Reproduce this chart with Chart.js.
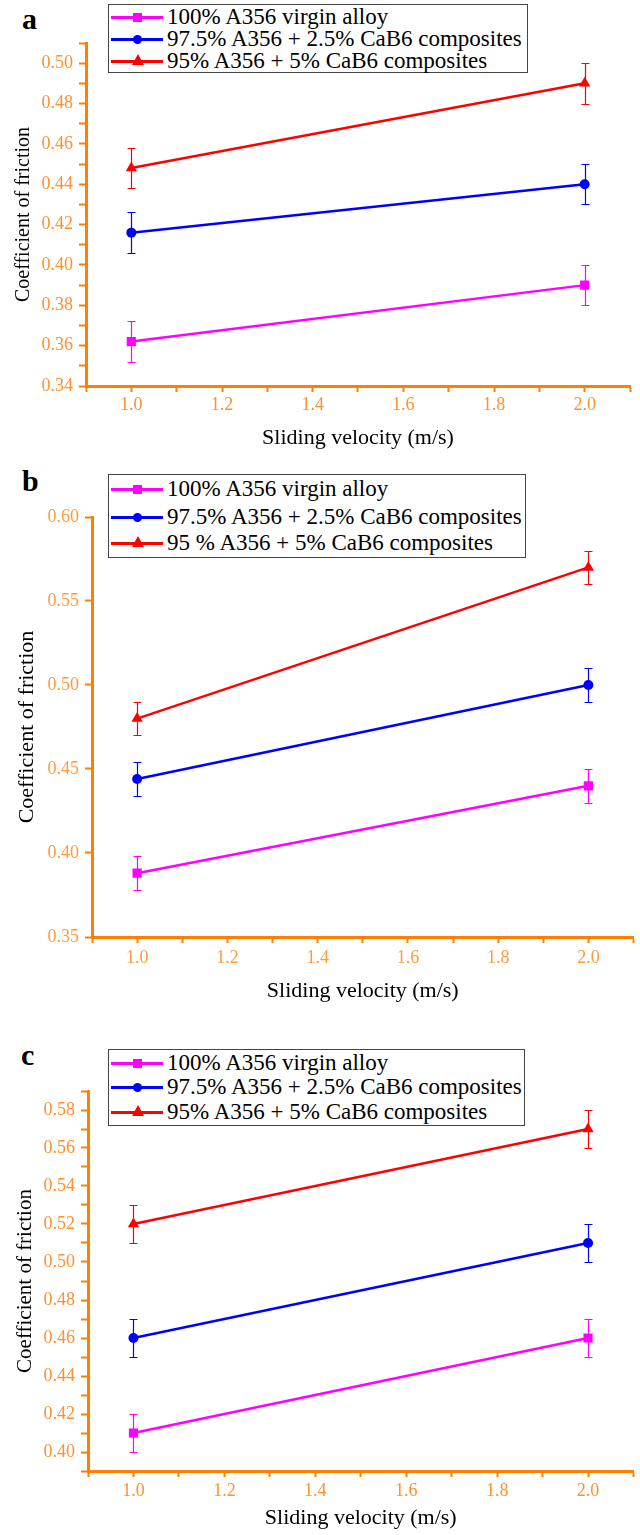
<!DOCTYPE html>
<html>
<head>
<meta charset="utf-8">
<script src="https://cdn.jsdelivr.net/npm/chart.js@4.4.1/dist/chart.umd.min.js"></script>
<style>
  body { margin: 0; background: #fff; }
  #page { position: relative; width: 640px; height: 1535px; overflow: hidden; font-family: "Liberation Serif", "Times New Roman", "DejaVu Serif", serif; }
  canvas { position: absolute; left: 0; }
  .tag { position: absolute; font-weight: bold; font-size: 30px; line-height: 30px; color: #000; }
  .legend { position: absolute; border: 1px solid #444; background: #fff; box-sizing: border-box; }
  .row { position: absolute; left: 0; height: 24px; }
  .row .line { position: absolute; left: 2px; width: 52px; top: 11px; height: 3px; }
  .row .mk { position: absolute; }
  .row .txt { position: absolute; left: 58px; top: 0; font-size: 23px; line-height: 24px; white-space: nowrap; color: #000; }
</style>
</head>
<body>
<div id="page">
  <div class="tag" style="left:22px; top:4px;">a</div>
  <div class="tag" style="left:22px; top:466px;">b</div>
  <div class="tag" style="left:21px; top:1040px;">c</div>
  <canvas id="chartA" width="640" height="465" style="top:0px"></canvas>
  <canvas id="chartB" width="640" height="545" style="top:465px"></canvas>
  <canvas id="chartC" width="640" height="525" style="top:1010px"></canvas>
  <div id="legendA" class="legend" style="left:108px; top:4px; width:420px; height:69px;"></div>
  <div id="legendB" class="legend" style="left:108px; top:474px; width:418px; height:84px;"></div>
  <div id="legendC" class="legend" style="left:108px; top:1049px; width:417px; height:77px;"></div>
</div>
<script>
// sliding velocity (m/s)
const velocity = [1.0, 2.0];

// panel a - coefficient of friction
const aVirgin = [0.362, 0.390];
const aComp25 = [0.416, 0.440];
const aComp5 = [0.448, 0.490];
const aErr = [0.01, 0.01];

// panel b
const bVirgin = [0.388, 0.440];
const bComp25 = [0.444, 0.500];
const bComp5 = [0.480, 0.570];
const bErr = [0.01, 0.01];

// panel c
const cVirgin = [0.410, 0.460];
const cComp25 = [0.460, 0.510];
const cComp5 = [0.520, 0.570];
const cErr = [0.01, 0.01];

const labelsA = ['100% A356 virgin alloy', '97.5% A356 + 2.5% CaB6 composites', '95% A356 + 5% CaB6 composites'];
const labelsB = ['100% A356 virgin alloy', '97.5% A356 + 2.5% CaB6 composites', '95 % A356 + 5% CaB6 composites'];
const labelsC = ['100% A356 virgin alloy', '97.5% A356 + 2.5% CaB6 composites', '95% A356 + 5% CaB6 composites'];

const seriesColors = ['#FF00FF', '#0000FF', '#FF0000'];
const pointStyles = ['rect', 'circle', 'triangle'];
const pointSizes = [6.5, 5, 6.5];

const ORANGE = '#FF7F00';
const SERIF = '"Liberation Serif", "Times New Roman", "DejaVu Serif", serif';

// error bars drawn through the chart's own scales
const errorBarPlugin = {
  id: 'errorBars',
  beforeDatasetsDraw(chart) {
    const ctx = chart.ctx;
    const xs = chart.scales.x;
    const ys = chart.scales.y;
    chart.data.datasets.forEach(ds => {
      ctx.save();
      ctx.strokeStyle = ds.borderColor;
      ctx.lineWidth = 1.2;
      ds.data.forEach((p, i) => {
        const e = ds.errors[i];
        const px = Math.round(xs.getPixelForValue(p.x)) + 0.5;
        const top = Math.round(ys.getPixelForValue(p.y + e)) + 0.5;
        const bot = Math.round(ys.getPixelForValue(p.y - e)) + 0.5;
        ctx.beginPath();
        ctx.moveTo(px, top); ctx.lineTo(px, bot);
        ctx.moveTo(px - 4, top); ctx.lineTo(px + 4, top);
        ctx.moveTo(px - 4, bot); ctx.lineTo(px + 4, bot);
        ctx.stroke();
      });
      ctx.restore();
    });
  }
};

function makeDatasets(series, errors, labels) {
  return series.map((vals, i) => ({
    label: labels[i],
    data: velocity.map((v, j) => ({ x: v, y: vals[j] })),
    errors: errors,
    borderColor: seriesColors[i],
    backgroundColor: seriesColors[i],
    borderWidth: 2.5,
    pointStyle: pointStyles[i],
    pointRadius: pointSizes[i],
    pointBorderWidth: 0,
    tension: 0
  }));
}

function makePanel(id, p) {
  const ctx = document.getElementById(id).getContext('2d');
  return new Chart(ctx, {
    type: 'line',
    data: { datasets: makeDatasets(p.series, p.errors, p.labels) },
    options: {
      responsive: false,
      animation: false,
      layout: { padding: { top: p.top, right: p.right, left: 0, bottom: 0 } },
      plugins: { legend: { display: false }, tooltip: { enabled: false } },
      scales: {
        x: {
          type: 'linear',
          min: 0.9,
          max: 2.1,
          ticks: {
            stepSize: 0.1,
            autoSkip: false,
            maxRotation: 0,
            padding: p.xTickPad,
            color: p.tickColor,
            font: { family: SERIF, size: 18 },
            callback: v => (Math.round(v * 10) % 2 === 0 ? v.toFixed(1) : '')
          },
          grid: { drawOnChartArea: false, color: ORANGE, tickLength: 6, tickWidth: 2 },
          border: { color: ORANGE, width: 3 },
          title: {
            display: true,
            text: 'Sliding velocity (m/s)',
            color: '#000',
            font: { family: SERIF, size: 22 },
            padding: { top: 0, bottom: p.xTitlePad }
          },
          afterFit: s => { s.height = p.xHeight; }
        },
        y: {
          min: p.yMin,
          max: p.yMax,
          ticks: {
            stepSize: p.yStep,
            autoSkip: false,
            padding: 6,
            color: p.tickColor,
            font: { family: SERIF, size: 18 },
            callback: p.yLabel
          },
          grid: { drawOnChartArea: false, color: ORANGE, tickLength: 7, tickWidth: 2 },
          border: { color: ORANGE, width: 3 },
          title: {
            display: true,
            text: 'Coefficient of friction',
            color: '#000',
            font: { family: SERIF, size: p.yTitleSize },
            padding: { top: p.yTitlePad, bottom: 0 }
          },
          afterFit: s => { s.width = p.yWidth; }
        }
      }
    },
    plugins: [errorBarPlugin]
  });
}

const evenHundredths = v => (Math.round(v * 100) % 2 === 0 ? v.toFixed(2) : '');

makePanel('chartA', {
  series: [aVirgin, aComp25, aComp5], errors: aErr, labels: labelsA,
  top: 43, right: 10, yWidth: 86, xHeight: 79,
  yMin: 0.34, yMax: 0.51, yStep: 0.01, yLabel: evenHundredths,
  tickColor: '#FF9030', xTickPad: 2, xTitlePad: 14, yTitleSize: 20, yTitlePad: 12
});

makePanel('chartB', {
  series: [bVirgin, bComp25, bComp5], errors: bErr, labels: labelsB,
  top: 52, right: 4, yWidth: 92, xHeight: 73,
  yMin: 0.35, yMax: 0.60, yStep: 0.05, yLabel: v => v.toFixed(2),
  tickColor: '#FF9A40', xTickPad: 4, xTitlePad: 6, yTitleSize: 22, yTitlePad: 14
});

makePanel('chartC', {
  series: [cVirgin, cComp25, cComp5], errors: cErr, labels: labelsC,
  top: 81, right: 6, yWidth: 88, xHeight: 64,
  yMin: 0.39, yMax: 0.59, yStep: 0.01, yLabel: evenHundredths,
  tickColor: '#FF9030', xTickPad: 3, xTitlePad: 4, yTitleSize: 21, yTitlePad: 13
});

// boxed legends like the original figure
function buildLegend(id, labels, rowTops) {
  const box = document.getElementById(id);
  labels.forEach((text, i) => {
    const row = document.createElement('div');
    row.className = 'row';
    row.style.top = (rowTops[i] - 12) + 'px';
    row.style.width = '100%';
    const line = document.createElement('span');
    line.className = 'line';
    line.style.background = seriesColors[i];
    const mk = document.createElement('span');
    mk.className = 'mk';
    if (pointStyles[i] === 'rect') {
      Object.assign(mk.style, { left: '24px', top: '8px', width: '9px', height: '9px', background: seriesColors[i] });
    } else if (pointStyles[i] === 'circle') {
      Object.assign(mk.style, { left: '24px', top: '8px', width: '9px', height: '9px', borderRadius: '50%', background: seriesColors[i] });
    } else {
      Object.assign(mk.style, { left: '23px', top: '5px', width: '0', height: '0', borderLeft: '6px solid transparent', borderRight: '6px solid transparent', borderBottom: '11px solid ' + seriesColors[i] });
    }
    const txt = document.createElement('span');
    txt.className = 'txt';
    txt.textContent = text;
    row.appendChild(line);
    row.appendChild(mk);
    row.appendChild(txt);
    box.appendChild(row);
  });
}

buildLegend('legendA', labelsA, [12, 34, 56]);
buildLegend('legendB', labelsB, [14, 42, 68]);
buildLegend('legendC', labelsC, [13, 37, 62]);
</script>
</body>
</html>
